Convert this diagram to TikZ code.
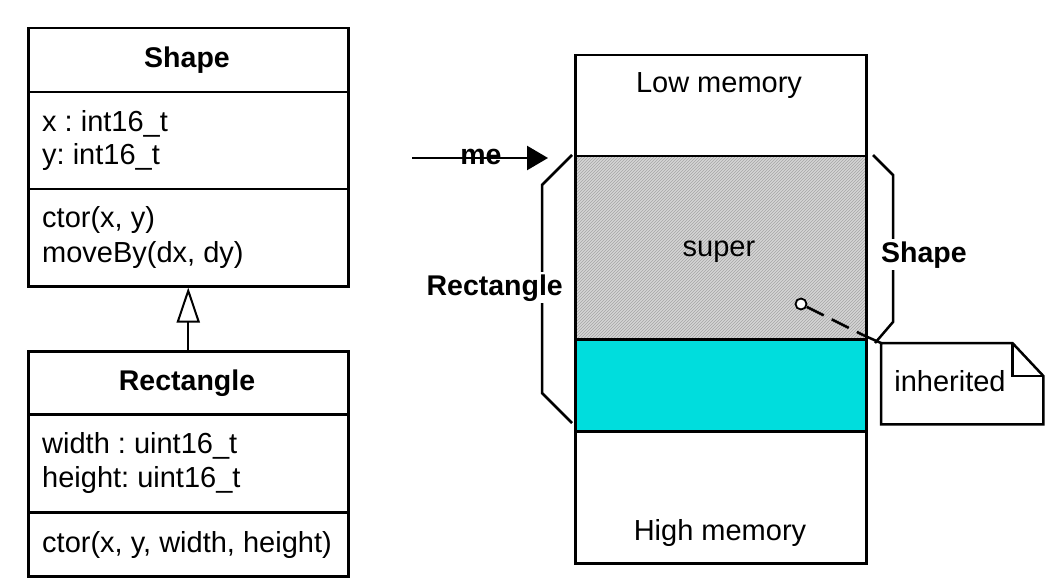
\documentclass[tikz,border=0pt]{standalone}
\usepackage{fontspec}
\setmainfont{Liberation Sans}
\usetikzlibrary{arrows.meta,patterns}
\definecolor{derivedcyan}{RGB}{0,221,221}
\definecolor{hatchbg}{RGB}{214,214,214}
\definecolor{hatchln}{RGB}{165,165,165}
\frenchspacing
\begin{document}
\begin{tikzpicture}[x=1pt,y=-1pt,
  every node/.style={font=\fontsize{29}{33}\selectfont\frenchspacing},
  ln/.style={line width=2.5pt},
  cell/.style={draw,line width=2.5pt,anchor=north west,inner sep=0pt},
  titletext/.style={anchor=base,inner sep=0pt,font=\fontsize{28.5}{33}\selectfont\bfseries},
  bodytext/.style={anchor=base west,inner sep=0pt},
  boldlabel/.style={inner sep=2pt,fill=white,font=\fontsize{28.5}{33}\selectfont\bfseries},
]
\useasboundingbox (0,0) rectangle (1055,580);

% ---- Shape class ----
\node[cell, minimum width=320pt, minimum height=64pt] (shapeName) at (27,27) {};
\node[cell, minimum width=320pt, minimum height=97pt] (shapeAttr) at (27,91) {};
\node[cell, minimum width=320pt, minimum height=97pt] (shapeOps) at (27,188) {};
\node[titletext] (shapeTitle) at (187,68) {Shape};
\node[bodytext] (shapeX) at (42,132) {x : int16\_t};
\node[bodytext] (shapeY) at (42,165) {y: int16\_t};
\node[bodytext] (shapeCtor) at (42,228) {ctor(x, y)};
\node[bodytext] (shapeMove) at (42,262) {moveBy(dx, dy)};

% ---- Rectangle class ----
\node[cell, minimum width=320pt, minimum height=63pt] (rectName) at (27,350) {};
\node[cell, minimum width=320pt, minimum height=98pt] (rectAttr) at (27,413) {};
\node[cell, minimum width=320pt, minimum height=64pt] (rectOps) at (27,511) {};
\node[titletext] (rectTitle) at (187,390) {Rectangle};
\node[bodytext] (rectW) at (42,453) {width : uint16\_t};
\node[bodytext] (rectH) at (42,487) {height: uint16\_t};
\node[bodytext] (rectCtor) at (42,552) {ctor(x, y, width, height)};

% generalization
\draw[line width=2pt, -{Triangle[open,length=35pt,width=23pt]}] (rectName.north) -- (shapeOps.south);

% ---- memory column ----
\node[cell, minimum width=291pt, minimum height=101pt] (lowMem) at (574,54) {};
\node[cell, minimum width=291pt, minimum height=183pt,
      preaction={fill=hatchbg}, pattern=north east lines, pattern color=hatchln] (superCell) at (574,155) {};
\node[cell, minimum width=291pt, minimum height=92pt, fill=derivedcyan] (derivedCell) at (574,338) {};
\node[cell, minimum width=291pt, minimum height=132pt] (highMem) at (574,430) {};
\node[anchor=base, inner sep=0pt] (lowText) at (719,93) {Low memory};
\node[anchor=base, inner sep=0pt] (superText) at (719,257) {super};
\node[anchor=base, inner sep=0pt] (highText) at (720,540) {High memory};

% me pointer
\coordinate (meStart) at (412,158);
\coordinate (meTip) at (548,158);
\draw[ln, -{Triangle[length=21pt,width=24pt]}] (meStart) -- (meTip);
\node[titletext] (meLabel) at (481,165) {me};

% left brace (Rectangle)
\draw[ln] (572,155) -- (542,185) -- (542,393) -- (572,423);
\node[boldlabel, anchor=base east] (rectLabel) at (565,295) {Rectangle};

% right brace (Shape)
\draw[ln] (873,155) -- (893,175) -- (893,322) -- (875,343);
\node[boldlabel, anchor=base west] (shapeLabel) at (879,262) {Shape};

% note
\node[anchor=north west, minimum width=162pt, minimum height=81pt, inner sep=0pt] (note) at (881,343) {};
\draw[ln, fill=white] (note.north west) -- ([xshift=-31pt]note.north east) -- ([yshift=-33pt]note.north east)
  -- (note.south east) -- (note.south west) -- cycle;
\draw[ln] ([xshift=-31pt]note.north east) -- ([xshift=-31pt,yshift=-33pt]note.north east) -- ([yshift=-33pt]note.north east);
\node[anchor=base, inner sep=0pt] (noteText) at (950,391) {inherited};

% anchor pin to note
\node[circle, draw, line width=1.8pt, minimum size=11pt, inner sep=0pt, fill=white] (pin) at (801,304) {};
\coordinate (pinBend) at (863,335);
\draw[ln, dash pattern=on 19pt off 9pt] (pin) -- (pinBend);
\draw[ln] (pinBend) -- (note.north west);
\end{tikzpicture}
\end{document}
